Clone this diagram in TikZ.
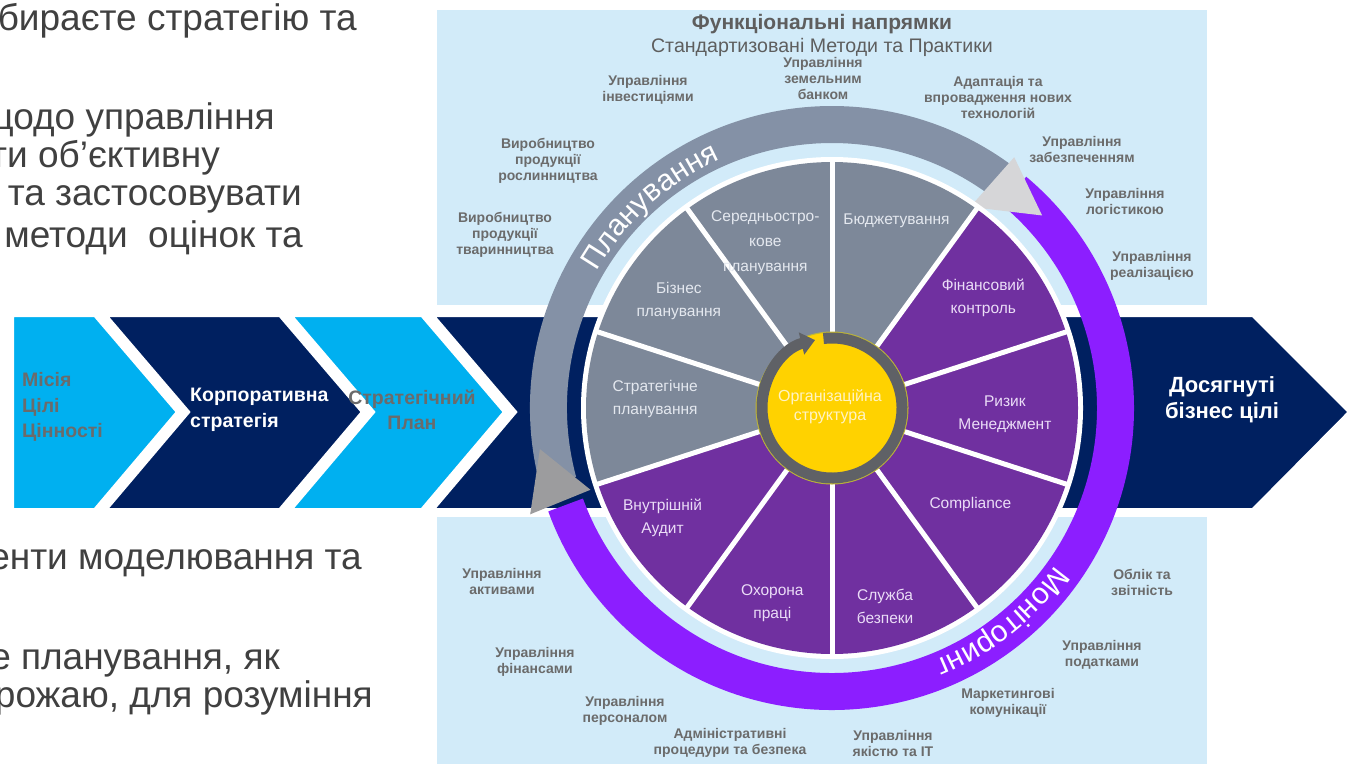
\documentclass[tikz,border=0pt]{standalone}
\usepackage{fontspec}
\setmainfont{Liberation Sans}
\usetikzlibrary{arrows.meta,decorations.text}
\definecolor{navy}{HTML}{002060}
\definecolor{skyb}{HTML}{00B0F0}
\definecolor{panelb}{HTML}{D2EBF9}
\definecolor{plangray}{HTML}{8491A6}
\definecolor{seggray}{HTML}{7D8899}
\definecolor{segpurp}{HTML}{7030A0}
\definecolor{monpurp}{HTML}{8C1EFF}
\definecolor{orgyel}{HTML}{FFD200}
\definecolor{orgedge}{HTML}{B9B43C}
\definecolor{orgtxt}{HTML}{FFF3C4}
\definecolor{ringgray}{HTML}{5F6166}
\definecolor{headlight}{HTML}{D6D6D8}
\definecolor{headdark}{HTML}{9C9C9E}
\definecolor{txtgray}{HTML}{6B6B6B}
\definecolor{titlegray}{HTML}{5E5E5E}
\definecolor{bodygray}{HTML}{404040}
\definecolor{graytxt}{HTML}{E4E8EF}
\definecolor{purptxt}{HTML}{EBDDF7}
\newcommand{\pxfont}[2]{\fontsize{#1}{#2}\selectfont}

\begin{document}
\begin{tikzpicture}[x=1pt,y=1pt,
  bodytext/.style={anchor=mid east,inner sep=0pt,text=bodygray,font=\pxfont{37}{39}},
  chevron/.style={draw=white,line width=4pt,line join=miter},
  chevtxt/.style={font=\bfseries\pxfont{19.5}{25.5},align=left,inner sep=0pt},
  funclabel/.style={text=txtgray,font=\bfseries\pxfont{14}{16},align=center,inner sep=0pt},
  seglabel/.style={font=\pxfont{15.5}{23},align=center,inner sep=0pt},
  ringband/.style={line width=37pt},
  bandtext/.style={decorate,decoration={text along path,text align=center,text={|\pxfont{30}{30}\color{white}|#1}}}]
\useasboundingbox (0,0) rectangle (1351,-764);

\node[bodytext] (l1) at (357,-28) {бираєте стратегію та};
\node[bodytext] (l2) at (275,-127) {щодо управління};
\node[bodytext] (l3) at (220,-165) {ти об’єктивну};
\node[bodytext] (l4) at (302,-203) {та застосовувати};
\node[bodytext] (l5) at (303,-245) {методи~~оцінок та};
\node[bodytext] (l6) at (362,-567) {енти моделювання та};
\node[bodytext] (l7) at (280,-667) {е планування, як};
\node[bodytext] (l8) at (373,-705) {рожаю, для розуміння};

\fill[panelb] (437,-10) rectangle (1207,-305);
\fill[panelb] (437,-517) rectangle (1207,-764);

\filldraw[chevron,fill=skyb] (12,-315)--(95,-315)--(178,-412)--(95,-510)--(12,-510)--cycle;
\filldraw[chevron,fill=navy] (105,-315)--(280,-315)--(363,-412)--(280,-510)--(105,-510)--(188,-412)--cycle;
\filldraw[chevron,fill=skyb] (290,-315)--(422,-315)--(505,-412)--(422,-510)--(290,-510)--(373,-412)--cycle;
\filldraw[chevron,fill=navy] (432,-315)--(1253,-315)--(1350,-412)--(1253,-510)--(432,-510)--(515,-412)--cycle;

\node[chevtxt,text=txtgray,anchor=west] (mission) at (22,-407) {Місія\\Цілі\\Цінності};
\node[chevtxt,text=white,anchor=west] (corp) at (190,-410) {Корпоративна\\стратегія};
\node[chevtxt,text=txtgray,align=center] (splan) at (412,-410) {Стратегічний\\План};
\node[chevtxt,text=white,align=center,font=\bfseries\pxfont{22}{26}] (goals) at (1222,-400) {Досягнуті\\бізнес цілі};

\node[text=titlegray,font=\bfseries\pxfont{21}{24}] (title) at (822,-24) {Функціональні напрямки};
\node[text=titlegray,font=\pxfont{19.6}{22}] (subtitle) at (822,-47) {Стандартизовані Методи та Практики};

\node[funclabel] (invest) at (648,-90) {Управління\\інвестиціями};
\node[funclabel] (land) at (823,-78) {Управління\\земельним\\банком};
\node[funclabel] (tech) at (998,-97) {Адаптація та\\впровадження нових\\технологій};
\node[funclabel] (supply) at (1082,-149) {Управління\\забезпеченням};
\node[funclabel] (logist) at (1125,-201) {Управління\\логістикою};
\node[funclabel] (sales) at (1152,-266) {Управління\\реалізацією};
\node[funclabel] (crops) at (548,-161) {Виробництво\\продукції\\рослинництва};
\node[funclabel] (livest) at (505,-235) {Виробництво\\продукції\\тваринництва};
\node[funclabel] (assets) at (502,-581) {Управління\\активами};
\node[funclabel] (finance) at (535,-662) {Управління\\фінансами};
\node[funclabel] (staff) at (625,-711) {Управління\\персоналом};
\node[funclabel] (admin) at (730,-743) {Адміністративні\\процедури та безпека};
\node[funclabel] (quality) at (893,-743) {Управління\\якістю та ІТ};
\node[funclabel] (market) at (1008,-703) {Маркетингові\\комунікації};
\node[funclabel] (tax) at (1102,-655) {Управління\\податками};
\node[funclabel] (report) at (1142,-582) {Облік та\\звітність};

% wheel
\begin{scope}[shift={(832,-408)}]
\draw[ringband,plangray] (195:283.5) arc (195:54:283.5);
\draw[ringband,monpurp] (50:283.5) arc (50:-160:283.5);
\fill[headdark] (188:295)--(198.7:255)--(199.4:320)--cycle;
\fill[headlight] (54:310)--(55.5:244)--(42.5:285)--cycle;
\path[bandtext=Планування] (180:272) arc (180:84:272);
\path[bandtext=Моніторинг] (0:273) arc (0:-103:273);

\fill[white] (0,0) circle (251);
\foreach \a in {54,90,126,162}
  \fill[seggray] (0,0)--(\a:246) arc (\a:\a+36:246)--cycle;
\foreach \a in {198,234,270,306,342,378}
  \fill[segpurp] (0,0)--(\a:246) arc (\a:\a+36:246)--cycle;
\foreach \a in {18,54,...,342}
  \draw[white,line width=5pt] (0,0)--(\a:248);

\node[seglabel,text=graytxt,font=\pxfont{15.5}{25}] (midterm) at (112:178) {Середньостро-\\кове\\планування};
\node[seglabel,text=graytxt] (budget) at (71:198) {Бюджетування};
\node[seglabel,text=graytxt] (bizplan) at (145:187) {Бізнес\\планування};
\node[seglabel,text=graytxt] (stratplan) at (177:177) {Стратегічне\\планування};
\node[seglabel,text=purptxt] (audit) at (213:202) {Внутрішній\\Аудит};
\node[seglabel,text=purptxt] (safety) at (253:204) {Охорона\\праці};
\node[seglabel,text=purptxt] (security) at (285:205) {Служба\\безпеки};
\node[seglabel,text=purptxt] (compl) at (325:169) {Compliance};
\node[seglabel,text=purptxt] (risk) at (358:173) {Ризик\\Менеджмент};
\node[seglabel,text=purptxt] (fincontrol) at (36:187) {Фінансовий\\контроль};

\filldraw[fill=orgyel,draw=orgedge,line width=1pt] (0,0) circle (76);
\draw[line width=11pt,ringgray,-{Triangle[width=22pt,length=14pt]}] (97:70) arc (97:-256:70);
\node[font=\pxfont{16}{19},text=orgtxt,align=center] (org) at (-2,1) {Організаційна\\структура};
\end{scope}
\end{tikzpicture}
\end{document}
